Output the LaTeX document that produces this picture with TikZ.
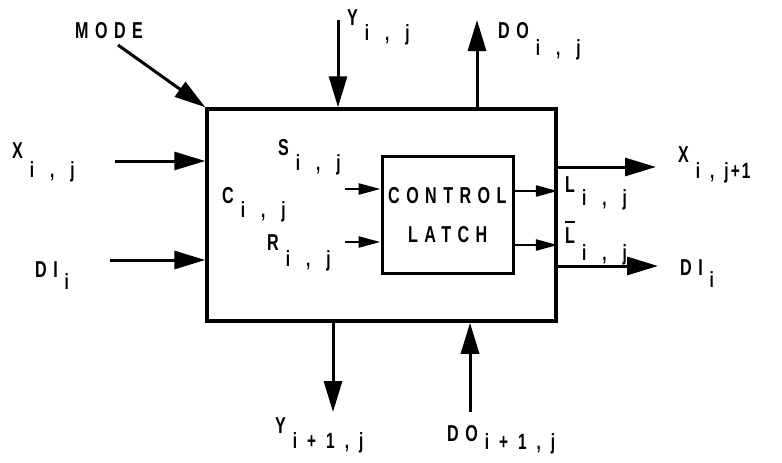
\documentclass[tikz,border=0pt]{standalone}
\usepackage{fontspec}
\setmainfont{Liberation Sans}[FakeStretch=0.7,LetterSpace=28,UprightFont=* Bold]
\usetikzlibrary{arrows.meta}
\newcommand\lbl[3][15pt]{#2\hspace{7pt}\raisebox{-#1}{\fontsize{22}{24}\selectfont #3}}
\newcommand\gp{\hspace{16pt}}
\newcommand\gq{\hspace{10pt}}
\newcommand\barL{\vbox{\hrule height 2.5pt\kern 4pt\hbox{L}}}
\begin{document}
\begin{tikzpicture}[x=1pt,y=-1pt,
  txt/.style={inner sep=0pt, anchor=base west, font=\fontsize{23}{26}\selectfont},
  blk/.style={draw, line width=3.5pt, inner sep=0pt},
  arr/.style={line width=3pt, -{Triangle[length=31pt,width=18pt]}},
  sarr/.style={line width=2.5pt, -{Triangle[length=22pt,width=11pt]}}]
\useasboundingbox (0,0) rectangle (782,463);
% blocks
\node[blk, minimum width=349pt, minimum height=212pt] (box) at (381.5,215) {};
\node[blk, line width=3pt, minimum width=131pt, minimum height=117pt] (latch) at (447.5,214.5) {};
\node[txt] (ctl) at (388,203) {CONTROL};
\node[txt] (lat) at (408,242) {LATCH};
% labels
\node[txt] (mode) at (75,38) {MODE};
\node[txt] (yij) at (347,25) {\lbl{Y}{i\gp,\gp j}};
\node[txt] (doij) at (498,38) {\lbl[17pt]{DO}{i\gp,\gp j}};
\node[txt] (xij) at (12,158) {\lbl[19pt]{X}{i\gp,\gp j}};
\node[txt] (dil) at (35,277) {\lbl[12pt]{DI}{i}};
\node[txt] (sij) at (278,155) {\lbl{S}{i\gp,\gp j}};
\node[txt] (cij) at (222,203) {\lbl[14pt]{C}{i\gp,\gp j}};
\node[txt] (rij) at (267,250) {\lbl[16pt]{R}{i\gp,\gp j}};
\node[txt] (lij) at (565,192) {\lbl[13pt]{L}{i\gp,\gp j}};
\node[txt] (lbij) at (565,243) {\lbl[17pt]{\barL}{i\gp,\gp j}};
\node[txt] (xout) at (678,162) {\lbl[16pt]{X}{i\gq,\gq j\hspace{2pt}+\hspace{2pt}1}};
\node[txt] (dir) at (680,275) {\lbl[12pt]{DI}{i}};
\node[txt] (ybot) at (275,433) {\lbl{Y}{i\gq+\gq 1\gq,\gq j}};
\node[txt] (dobot) at (447,441) {\lbl[8pt]{DO}{i\gq+\gq 1\gq,\gq j}};
% connector ends
\coordinate (m0) at (118,45);
\coordinate (y0) at (338,20);
\coordinate (d0) at (477,20);
\coordinate (x0) at (115,161);
\coordinate (di0) at (110,260);
\coordinate (s0) at (345,189);
\coordinate (r0) at (345,242);
\coordinate (lo) at (513,191);
\coordinate (lbo) at (513,245);
\coordinate (xo) at (656,167);
\coordinate (dio) at (658,266);
\coordinate (yb) at (333,412);
\coordinate (db) at (470,412);
% connectors
\draw[arr] (m0) -- (box.north west);
\draw[arr] (y0) -- (y0 |- box.north);
\draw[arr] (d0 |- box.north) -- (d0);
\draw[arr] (x0) -- (x0 -| box.west);
\draw[arr] (di0) -- (di0 -| box.west);
\draw[sarr] (s0) -- (s0 -| latch.west);
\draw[sarr] (r0) -- (r0 -| latch.west);
\draw[sarr] (lo) -- (lo -| box.east);
\draw[sarr] (lbo) -- (lbo -| box.east);
\draw[arr] (xo -| box.east) -- (xo);
\draw[arr] (dio -| box.east) -- (dio);
\draw[arr] (yb |- box.south) -- (yb);
\draw[arr] (db) -- (db |- box.south);
\end{tikzpicture}
\end{document}
